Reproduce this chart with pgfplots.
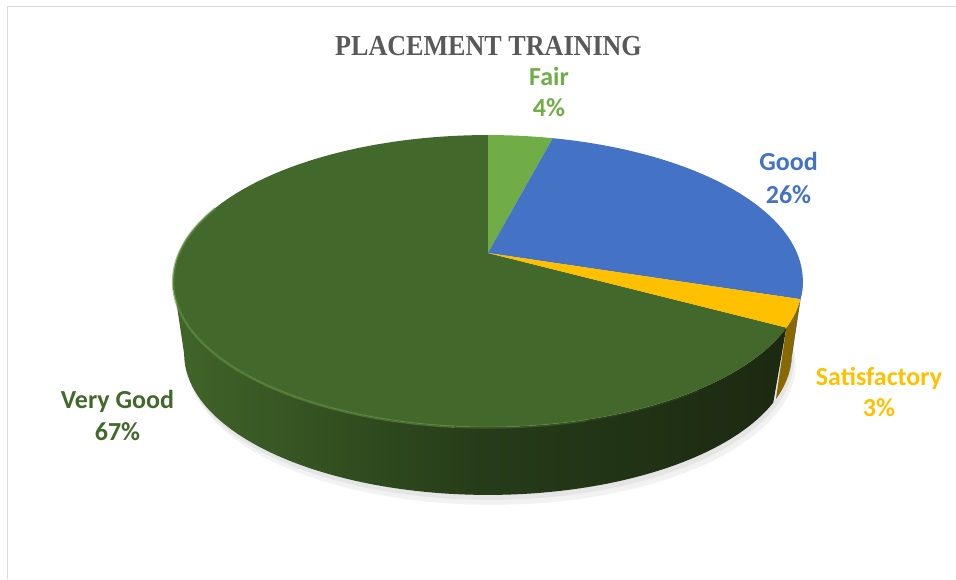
\documentclass[border=0pt]{standalone}
\usepackage{fontspec}
\usepackage{graphicx}
\usepackage{pgfplots}
\usepackage{pgfplotstable}
\pgfplotsset{compat=1.18}
\setmainfont{Carlito}
\newfontfamily\titlefont{Liberation Serif}
\definecolor{cFair}{HTML}{70AD47}
\definecolor{cGood}{HTML}{4472C4}
\definecolor{cSat}{HTML}{FFC000}
\definecolor{cVG}{HTML}{43682B}
\definecolor{sVGL}{HTML}{416529}
\definecolor{sVGM}{HTML}{263C19}
\definecolor{sVGR}{HTML}{1C2911}
\definecolor{sSat}{HTML}{8A6800}
\definecolor{sGood}{HTML}{2C4C86}
\definecolor{rimc}{HTML}{618F42}
\definecolor{titlec}{HTML}{595959}
\definecolor{borderc}{HTML}{D9D9D9}

\pgfplotstableread{
label value
Fair 4
Good 26
Satisfactory 3
VeryGood 67
}\piedata
\pgfplotstablegetelem{0}{value}\of\piedata \edef\vFair{\pgfplotsretval}
\pgfplotstablegetelem{1}{value}\of\piedata \edef\vGood{\pgfplotsretval}
\pgfplotstablegetelem{2}{value}\of\piedata \edef\vSat{\pgfplotsretval}
\pgfplotstablegetelem{3}{value}\of\piedata \edef\vVG{\pgfplotsretval}
\pgfmathsetmacro\aA{90}
\pgfmathsetmacro\aB{\aA-3.6*\vFair}
\pgfmathsetmacro\aC{\aB-3.6*\vGood}
\pgfmathsetmacro\aD{\aC-3.6*\vSat}
\pgfmathsetmacro\aE{\aD-3.6*\vVG}

\begin{document}
\begin{tikzpicture}
\useasboundingbox (0,0) rectangle (956pt,579pt);
\begin{axis}[at={(0,0)},anchor=south west,
  width=956pt,height=579pt,scale only axis,hide axis,
  xmin=0,xmax=956,ymin=0,ymax=579,y dir=reverse,clip=false,
  declare function={
    pxf(\t)=488+309*cos(\t)/(1+0.192*sin(\t));
    pyf(\t)=253-140.6*sin(\t)/(1+0.192*sin(\t));
    sang(\s,\a,\b)=ifthenelse(\s<=100,\a+(\b-\a)*\s/100,\b-(\b-\a)*(\s-100)/100);
    ssc(\s)=ifthenelse(\s<=100,1,0.965);
    sdep(\s)=ifthenelse(\s<=100,0,74);
    bx(\t)=488+0.965*(pxf(\t)-488);
    by(\t)=253+0.965*(pyf(\t)-253)+74;
  }]
% chart border
\addplot[color=borderc, line width=1.2pt] coordinates {(7.5,579) (7.5,6.5) (956,6.5)};
% shadow
\addplot[fill=black!5, draw=none, domain=0:360, samples=120, variable=\t]
  ({bx(\t)+4},{by(\t)+10}) -- cycle;
\addplot[fill=black!10, draw=none, domain=0:360, samples=120, variable=\t]
  ({bx(\t)+2},{by(\t)+5}) -- cycle;
% sides
\addplot[draw=none, left color=sVGL, right color=sVGR, middle color=sVGM,
  variable=\s, samples at={0,1,...,200}]
  ({488+ssc(\s)*(pxf(sang(\s,-168.93,\aD))-488)},
   {253+ssc(\s)*(pyf(sang(\s,-168.93,\aD))-253)+sdep(\s)}) -- cycle;
\addplot[draw=none, fill=sSat, variable=\s, samples at={0,1,...,200}]
  ({488+ssc(\s)*(pxf(sang(\s,\aD,\aC))-488)},
   {253+ssc(\s)*(pyf(sang(\s,\aD,\aC))-253)+sdep(\s)}) -- cycle;
\addplot[draw=none, fill=sGood, variable=\s, samples at={0,1,...,200}]
  ({488+ssc(\s)*(pxf(sang(\s,\aC,-11.07))-488)},
   {253+ssc(\s)*(pyf(sang(\s,\aC,-11.07))-253)+sdep(\s)}) -- cycle;
% top faces
\addplot[fill=cVG, draw=none, domain=\aE:\aD, samples=150, variable=\t]
  ({pxf(\t)},{pyf(\t)}) -- (488,253) -- cycle;
\addplot[fill=cFair, draw=none, domain=\aB:\aA, samples=30, variable=\t]
  ({pxf(\t)},{pyf(\t)}) -- (488,253) -- cycle;
\addplot[fill=cGood, draw=none, domain=\aC:\aB, samples=80, variable=\t]
  ({pxf(\t)},{pyf(\t)}) -- (488,253) -- cycle;
\addplot[fill=cSat, draw=none, domain=\aD:\aC, samples=30, variable=\t]
  ({pxf(\t)},{pyf(\t)}) -- (488,253) -- cycle;
% rim highlight (fading towards the right)
\addplot[draw=rimc, line width=2.4pt, domain=-200:-95, samples=80, variable=\t, opacity=0.6]
  ({pxf(\t)},{pyf(\t)+0.5});
\addplot[draw=rimc, line width=2.4pt, domain=-95.5:-75, samples=20, variable=\t, opacity=0.35]
  ({pxf(\t)},{pyf(\t)+0.5});
\addplot[draw=rimc, line width=2.4pt, domain=-75.5:-55, samples=20, variable=\t, opacity=0.15]
  ({pxf(\t)},{pyf(\t)+0.5});
% title
\node[anchor=base, text=titlec] at (488.5,55)
  {\titlefont\bfseries\fontsize{29}{34}\selectfont\scalebox{0.9}[1]{PLACEMENT TRAINING}};
% labels
\node[anchor=base, text=cFair, font=\bfseries\fontsize{26}{31}\selectfont] at (549,85.7) {Fair};
\node[anchor=base, text=cFair, font=\bfseries\fontsize{26}{31}\selectfont] at (549,116.7) {\vFair\%};
\node[anchor=base, text=cGood, font=\bfseries\fontsize{26}{31}\selectfont] at (788.5,170.7) {Good};
\node[anchor=base, text=cGood, font=\bfseries\fontsize{26}{31}\selectfont] at (788.5,203.3) {\vGood\%};
\node[anchor=base, text=cSat, font=\bfseries\fontsize{26}{31}\selectfont] at (879,385) {Satisfactory};
\node[anchor=base, text=cSat, font=\bfseries\fontsize{26}{31}\selectfont] at (879,416.7) {\vSat\%};
\node[anchor=base, text=cVG, font=\bfseries\fontsize{26}{31}\selectfont] at (117.5,408.3) {Very Good};
\node[anchor=base, text=cVG, font=\bfseries\fontsize{26}{31}\selectfont] at (117.5,440) {\vVG\%};
\end{axis}
\end{tikzpicture}
\end{document}
